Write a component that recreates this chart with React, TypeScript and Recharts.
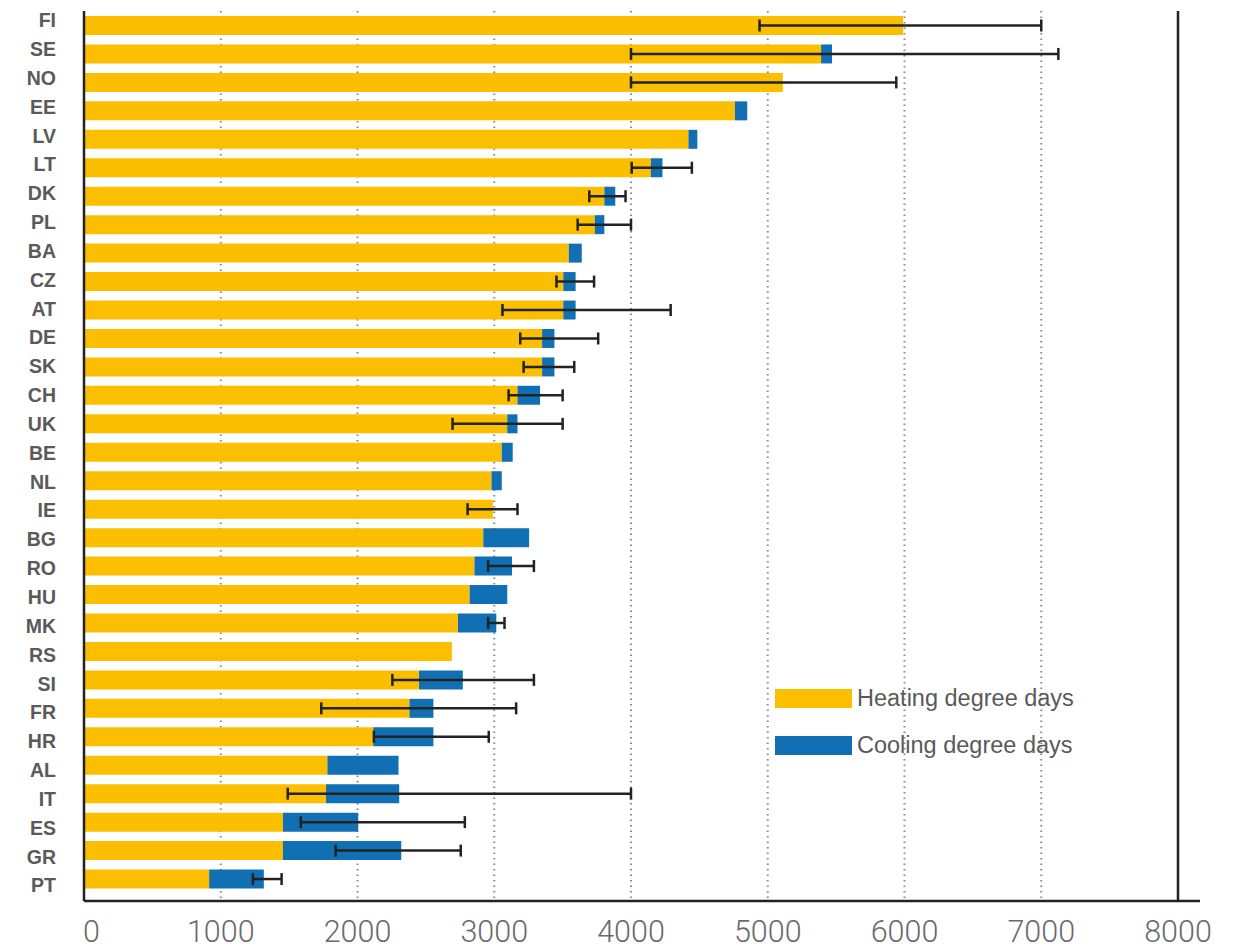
import React from 'react';
import { BarChart, Bar, XAxis, YAxis, CartesianGrid, ErrorBar, ReferenceLine, Legend } from 'recharts';

const countries = [
  'FI', 'SE', 'NO', 'EE', 'LV', 'LT', 'DK', 'PL', 'BA', 'CZ', 'AT', 'DE', 'SK', 'CH', 'UK', 'BE',
  'NL', 'IE', 'BG', 'RO', 'HU', 'MK', 'RS', 'SI', 'FR', 'HR', 'AL', 'IT', 'ES', 'GR', 'PT',
];

// heating degree days (yellow part)
const heating = [
  5990, 5390, 5110, 4760, 4420, 4145, 3805, 3735, 3545, 3505, 3505, 3350, 3350, 3170, 3095, 3055,
  2980, 2990, 2920, 2855, 2820, 2735, 2690, 2450, 2380, 2115, 1780, 1770, 1455, 1455, 915,
];

// cooling degree days, stacked on top of heating
const cooling = [
  0, 80, 0, 90, 65, 85, 80, 70, 95, 90, 90, 90, 90, 165, 75, 80,
  75, 0, 335, 275, 275, 280, 0, 320, 175, 440, 520, 535, 550, 865, 400,
];

// range of total degree days (min / max), null = no range shown
const rangeLow = [
  4940, 4000, 4000, null, null, 4005, 3695, 3610, null, 3455, 3060, 3190, 3215, 3105, 2695, null,
  null, 2805, null, 2955, null, 2955, null, 2255, 1735, 2120, null, 1490, 1585, 1840, 1235,
];
const rangeHigh = [
  7000, 7125, 5940, null, null, 4445, 3960, 4000, null, 3730, 4290, 3760, 3585, 3500, 3500, null,
  null, 3170, null, 3290, null, 3075, null, 3290, 3160, 2960, null, 4000, 2785, 2755, 1445,
];

const xTicks = [0, 1000, 2000, 3000, 4000, 5000, 6000, 7000, 8000];
const legendOrder = ['Heating degree days', 'Cooling degree days'];

const YELLOW = '#FBBF00';
const BLUE = '#1170B3';
const DARK = '#222222';
const LABEL = '#5a5a5a';

const data = countries.map((country, i) => {
  const total = heating[i] + cooling[i];
  const lo = rangeLow[i];
  const hi = rangeHigh[i];
  const range = lo == null || hi == null ? null : [total - lo, hi - total];
  // zero-width cooling bars get no error bar, so hang those on the heating bar
  return {
    country,
    heating: heating[i],
    cooling: cooling[i],
    rangeHeat: cooling[i] === 0 ? range : null,
    rangeCool: cooling[i] === 0 ? null : range,
  };
});

// labels are spaced a little wider than the bars in the original
const CountryTick = (props: any) => {
  const { x, y, payload, index } = props;
  const shift = -5 + index * 0.39;
  return (
    <text
      x={x}
      y={y + shift}
      dy="0.355em"
      textAnchor="end"
      fill={LABEL}
      fontSize={19.5}
      fontWeight="bold"
      fontFamily="'Liberation Sans', Arial, sans-serif"
    >
      {payload.value}
    </text>
  );
};

const ValueTick = (props: any) => {
  const { x, y, payload } = props;
  const first = payload.value === 0;
  return (
    <text
      x={first ? x - 1 : x}
      y={y + 41}
      textAnchor={first ? 'start' : 'middle'}
      fill="#6a6a6a"
      fontSize={30.5}
      fontWeight={300}
      fontFamily="Roboto, 'Liberation Sans', sans-serif"
    >
      {payload.value}
    </text>
  );
};

const LegendBox = (props: any) => {
  const items = [...(props.payload || [])].sort(
    (a: any, b: any) => legendOrder.indexOf(a.value) - legendOrder.indexOf(b.value),
  );
  return (
    <div>
      {items.map((item: any) => (
        <div
          key={item.value}
          style={{ display: 'flex', alignItems: 'center', height: 19, marginBottom: 28 }}
        >
          <div style={{ width: 77, height: 19, background: item.color, marginRight: 5 }} />
          <span
            style={{
              fontFamily: "'Liberation Sans', Arial, sans-serif",
              fontSize: 23.5,
              color: LABEL,
              whiteSpace: 'nowrap',
            }}
          >
            {item.value}
          </span>
        </div>
      ))}
    </div>
  );
};

export default function App() {
  return (
    <div style={{ width: 1230, height: 940 }}>
      <BarChart
        width={1230}
        height={940}
        data={data}
        layout="vertical"
        barSize={19}
        margin={{ top: 3, right: 38, bottom: 0, left: 0 }}
      >
        <CartesianGrid
          horizontal={false}
          syncWithTicks
          stroke="#8a8a8a"
          strokeWidth={2}
          strokeDasharray="1.5 4"
        />
        <XAxis
          type="number"
          domain={[0, 8000]}
          ticks={xTicks}
          allowDataOverflow
          padding={{ left: 0, right: 22 }}
          axisLine={{ stroke: DARK, strokeWidth: 2.5 }}
          tickLine={false}
          tickSize={0}
          tickMargin={0}
          height={47}
          tick={<ValueTick />}
        />
        <YAxis
          type="category"
          dataKey="country"
          width={76}
          interval={0}
          padding={{ top: 0, bottom: 8 }}
          axisLine={{ stroke: DARK, strokeWidth: 2.5 }}
          tickLine={false}
          tickSize={6}
          tickMargin={22}
          tick={<CountryTick />}
        />
        <ReferenceLine x={8000} stroke={DARK} strokeWidth={2.5} />
        <Bar
          dataKey="heating"
          name="Heating degree days"
          stackId="dd"
          fill={YELLOW}
          isAnimationActive={false}
        >
          <ErrorBar dataKey="rangeHeat" direction="x" width={6} stroke={DARK} strokeWidth={2.5} />
        </Bar>
        <Bar
          dataKey="cooling"
          name="Cooling degree days"
          stackId="dd"
          fill={BLUE}
          isAnimationActive={false}
        >
          <ErrorBar dataKey="rangeCool" direction="x" width={6} stroke={DARK} strokeWidth={2.5} />
        </Bar>
        <Legend
          layout="vertical"
          align="center"
          verticalAlign="middle"
          content={<LegendBox />}
          wrapperStyle={{ position: 'absolute', left: 767, top: 681, width: 360 }}
        />
      </BarChart>
    </div>
  );
}
